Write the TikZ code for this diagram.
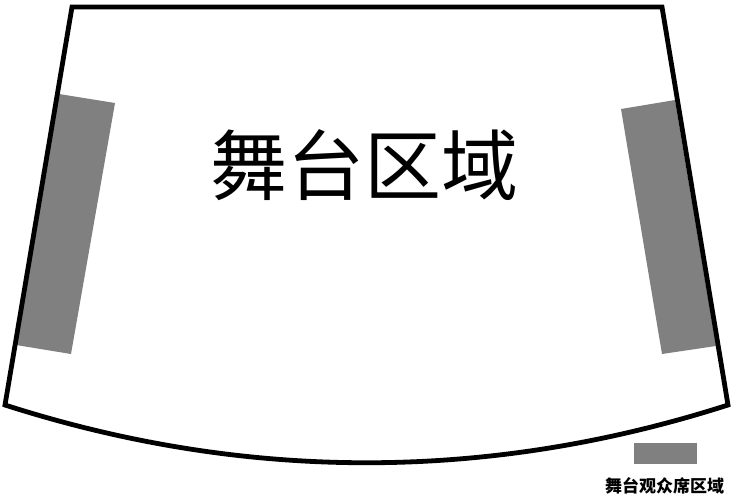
\documentclass[tikz,border=0pt]{standalone}
\usepackage{fontspec}
\newfontfamily\cjk{Noto Sans CJK SC}
\usetikzlibrary{positioning}
\tikzstyle{outline} = [line width=4.8pt, line join=miter, draw=black]
\tikzstyle{seats} = [fill=gray, draw=none]
\tikzstyle{title} = [font=\cjk\fontsize{77}{77}\selectfont, inner sep=0pt]
\tikzstyle{legendbox} = [rectangle, fill=gray, minimum width=63pt, minimum height=21pt, inner sep=0pt]
\tikzstyle{legendtext} = [font=\cjk\bfseries\fontsize{17}{17}\selectfont, inner sep=0pt]
\begin{document}
\begin{tikzpicture}[x=1pt, y=-1pt]
            \useasboundingbox (0,0) rectangle (736,495);
            % seating blocks
            \fill [seats] (59,94) -- (115,103) -- (71,354) -- (16,345) -- cycle;
            \fill [seats] (621,109) -- (675,100) -- (716,346) -- (662,354) -- cycle;
            % stage outline
            \draw [outline] (5,405) -- (72,7) -- (662,7) -- (728,405)
                .. controls (488,482) and (245,482) .. cycle;
            \node (stage) [title] at (364,165) {舞台区域};
            % legend
            \node (key) [legendbox] at (665.5,453.5) {};
            \node (keylabel) [legendtext, below=13pt of key, xshift=-1pt] {舞台观众席区域};
\end{tikzpicture}
\end{document}
